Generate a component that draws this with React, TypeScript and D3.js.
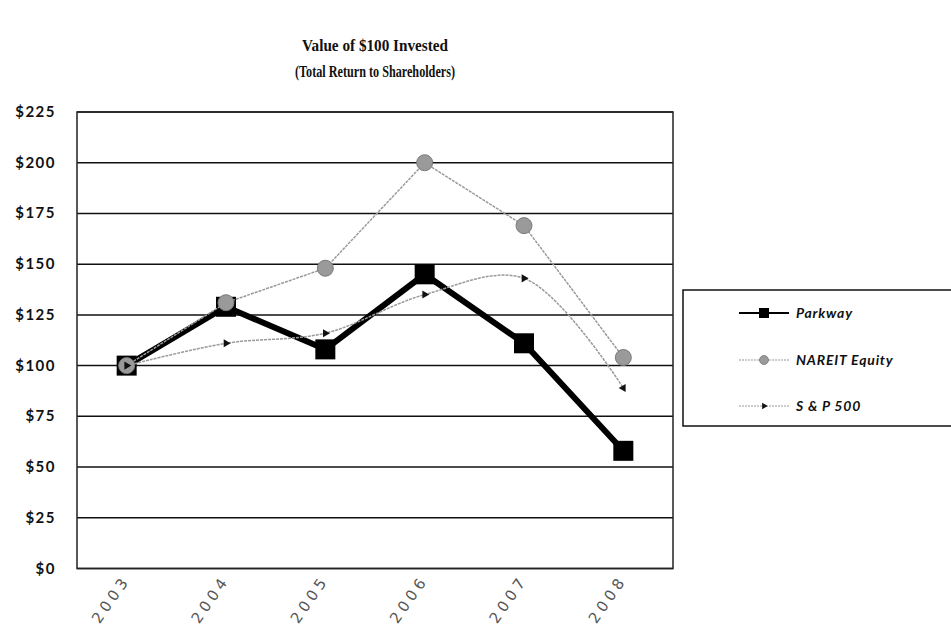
import React from "react";
import * as d3 from "d3";

const years = ["2003", "2004", "2005", "2006", "2007", "2008"];
const parkway = [100, 129, 108, 145, 111, 58];
const nareit = [100, 131, 148, 200, 169, 104];
const sp500 = [100, 111, 116, 135, 143, 89];
const yTicks = [0, 25, 50, 75, 100, 125, 150, 175, 200, 225];
const titleLines = ["Value of $100 Invested", "(Total Return to Shareholders)"];
const titleWidths = [146, 160];
const seriesNames = ["Parkway", "NAREIT Equity", "S & P 500"];

const W = 951;
const H = 639;
const plot = { left: 77, right: 673, top: 112, bottom: 568.5 };

export default function App() {
  const x = d3.scaleBand<string>().domain(years).range([plot.left, plot.right]).padding(0);
  const cx = (d: string) => (x(d) as number) + x.bandwidth() / 2;
  const y = d3.scaleLinear().domain([0, 225]).range([plot.bottom, plot.top]);

  const straight = d3
    .line<number>()
    .x((_, i) => cx(years[i]))
    .y((v) => y(v));
  const smooth = d3
    .line<number>()
    .x((_, i) => cx(years[i]))
    .y((v) => y(v))
    .curve(d3.curveCatmullRom.alpha(0.5));

  const tri = d3.symbol().type(d3.symbolTriangle).size(28)();

  const legendX = 683;
  const legendY = 290;
  const legendRows = [313, 360, 406];

  return (
    <svg
      width={W}
      height={H}
      style={{ position: "absolute", left: 0, top: 0, background: "#fff" }}
    >
      <rect x={0} y={0} width={W} height={H} fill="#fff" />
      {/* Title */}
      {titleLines.map((t, i) => (
        <text
          key={t}
          x={375}
          y={51 + i * 26}
          textAnchor="middle"
          fontFamily="'Liberation Serif', 'DejaVu Serif', serif"
          fontWeight="bold"
          fontSize={17}
          textLength={titleWidths[i]}
          lengthAdjust="spacingAndGlyphs"
          fill="#111"
        >
          {t}
        </text>
      ))}

      {/* Gridlines */}
      {yTicks.map((t) => (
        <line
          key={t}
          x1={plot.left}
          x2={plot.right}
          y1={y(t)}
          y2={y(t)}
          stroke="#111"
          strokeWidth={1.5}
        />
      ))}
      {/* Plot border */}
      <rect
        x={plot.left}
        y={plot.top}
        width={plot.right - plot.left}
        height={plot.bottom - plot.top}
        fill="none"
        stroke="#222"
        strokeWidth={1.5}
      />

      {/* Y labels */}
      {yTicks.map((t) => (
        <text
          key={t}
          x={56}
          y={y(t) + 5}
          textAnchor="end"
          fontFamily="Lato, 'Open Sans', sans-serif"
          fontWeight="bold"
          fontSize={15}
          letterSpacing={1.5}
          fill="#111"
        >
          {d3.format("$")(t)}
        </text>
      ))}

      {/* X labels */}
      {years.map((d) => (
        <text
          key={d}
          transform={`translate(${cx(d) + 4},${580}) rotate(-55)`}
          textAnchor="end"
          fontFamily="'DejaVu Sans', sans-serif"
          fontWeight="normal"
          fontSize={15}
          letterSpacing={4}
          fill="#555"
        >
          {d}
        </text>
      ))}

      {/* Parkway */}
      <path d={straight(parkway) || ""} fill="none" stroke="#000" strokeWidth={6} strokeLinejoin="miter" />
      {parkway.map((v, i) => (
        <rect key={i} x={cx(years[i]) - 10} y={y(v) - 10} width={20} height={20} fill="#000" />
      ))}

      {/* NAREIT */}
      <path d={straight(nareit) || ""} fill="none" stroke="#9a9a9a" strokeWidth={1.5} strokeDasharray="3 1" />
      {nareit.map((v, i) => (
        <circle key={i} cx={cx(years[i])} cy={y(v)} r={8} fill="#9a9a9a" stroke="#7a7a7a" strokeWidth={1} />
      ))}

      {/* S&P 500 */}
      <path d={smooth(sp500) || ""} fill="none" stroke="#9a9a9a" strokeWidth={1.5} strokeDasharray="3 1" />
      {sp500.map((v, i) => (
        <path key={i} d={tri || ""} transform={`translate(${cx(years[i])},${y(v)}) rotate(${i === 5 ? 150 : 90})`} fill="#111" />
      ))}

      {/* Legend */}
      <rect x={legendX} y={legendY} width={W + 5 - legendX} height={136} fill="#fff" stroke="#111" strokeWidth={1.5} />
      {seriesNames.map((name, i) => {
        const ly = legendRows[i];
        return (
          <g key={name}>
            <line
              x1={739}
              x2={789}
              y1={ly}
              y2={ly}
              stroke={i === 0 ? "#000" : "#9a9a9a"}
              strokeWidth={i === 0 ? 2 : 1.2}
              strokeDasharray={i === 0 ? undefined : "2 1"}
            />
            {i === 0 && <rect x={759} y={ly - 5} width={10} height={10} fill="#000" />}
            {i === 1 && <circle cx={764} cy={ly} r={4.5} fill="#9a9a9a" stroke="#777" strokeWidth={0.8} />}
            {i === 2 && <path d={tri || ""} transform={`translate(764,${ly}) rotate(90) scale(0.8)`} fill="#111" />}
            <text
              x={796}
              y={ly + 5}
              fontFamily="Lato, 'Open Sans', sans-serif"
              fontStyle="italic"
              fontWeight="bold"
              fontSize={14}
              letterSpacing={0.8}
              fill="#111"
            >
              {name}
            </text>
          </g>
        );
      })}
    </svg>
  );
}
